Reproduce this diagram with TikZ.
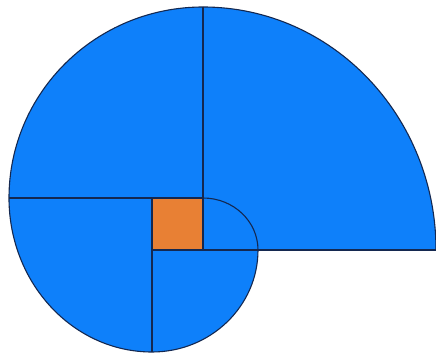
\documentclass[tikz,border=0pt]{standalone}
\definecolor{shellblue}{RGB}{14,128,250}
\definecolor{shellorange}{RGB}{232,128,52}
\definecolor{shellline}{RGB}{20,40,80}
\begin{document}
\begin{tikzpicture}[x=1pt,y=1pt,
  edge/.style={draw=shellline,line width=1.3pt},
  outline/.style={draw=shellline,line width=1.1pt,line join=round}]
\useasboundingbox (0,0) rectangle (436,356);
% filled shell
\fill[shellblue] (203,349) arc[start angle=90,end angle=0,x radius=233,y radius=243]
  -- (258,106) arc[start angle=0,end angle=-90,x radius=106,y radius=102]
  arc[start angle=-90,end angle=-180,x radius=143,y radius=154]
  arc[start angle=180,end angle=90,x radius=194,y radius=191] -- cycle;
% orange square
\fill[shellorange] (152,106) rectangle (203,158);
% outline
\path[outline] (203,349) arc[start angle=90,end angle=0,x radius=233,y radius=243];
\path[outline] (258,106) arc[start angle=0,end angle=-90,x radius=106,y radius=102]
  arc[start angle=-90,end angle=-180,x radius=143,y radius=154]
  arc[start angle=180,end angle=90,x radius=194,y radius=191];
\path[outline] (203,158) arc[start angle=90,end angle=0,x radius=55,y radius=52];
% inner lines
\path[edge] (203,349) -- (203,106);
\path[edge] (9,158) -- (203,158);
\path[edge] (152,106) -- (436,106);
\path[edge] (152,158) -- (152,4);
\end{tikzpicture}
\end{document}
